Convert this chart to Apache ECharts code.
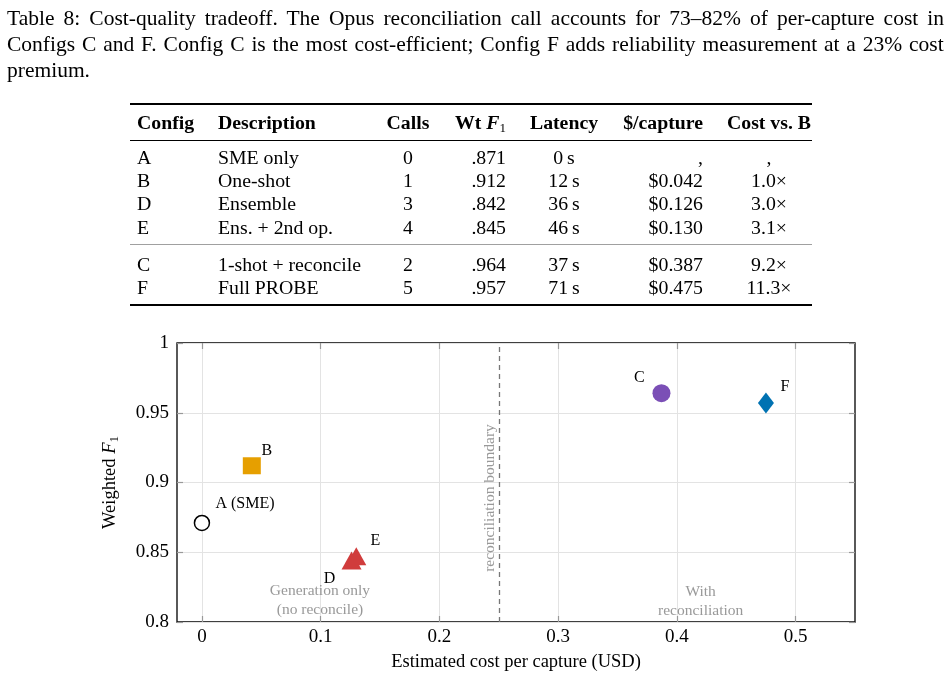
<!DOCTYPE html>
<html>
<head>
<meta charset="utf-8">
<script src="https://cdn.jsdelivr.net/npm/echarts@6/dist/echarts.min.js"></script>
<style>
  html, body { margin: 0; padding: 0; background: #fff; }
  body { width: 949px; height: 682px; position: relative; overflow: hidden; font-family: 'Liberation Serif', serif; color: #000; }
  #chart { position: absolute; left: 0; top: 0; width: 949px; height: 682px; }
  .cap { position: absolute; left: 7px; font-size: 21.5px; line-height: 26px; white-space: nowrap; }
  .cell { position: absolute; font-size: 19.8px; line-height: 23px; white-space: nowrap; z-index: 2; }
  .hd { font-weight: bold; }
  .rule { position: absolute; left: 130px; width: 682px; background: #000; }
  sub { font-size: 13px; font-weight: normal; vertical-align: -3px; line-height: 0; }
</style>
</head>
<body>
<div id="chart"></div>
<div id="table"></div>
<script>
// caption
const captionLines = [
  'Table 8: Cost-quality tradeoff. The Opus reconciliation call accounts for 73\u201382% of per-capture cost in',
  'Configs C and F. Config C is the most cost-efficient; Config F adds reliability measurement at a 23% cost',
  'premium.'
];

// table
const headers = ['Config', 'Description', 'Calls', 'Wt <i>F</i><sub>1</sub>', 'Latency', '$/capture', 'Cost vs. B'];
const configs = ['A', 'B', 'D', 'E', 'C', 'F'];
const descriptions = ['SME only', 'One-shot', 'Ensemble', 'Ens. + 2nd op.', '1-shot + reconcile', 'Full PROBE'];
const calls = ['0', '1', '3', '4', '2', '5'];
const wtF1Text = ['.871', '.912', '.842', '.845', '.964', '.957'];
const latency = ['0\u2009s', '12\u2009s', '36\u2009s', '46\u2009s', '37\u2009s', '71\u2009s'];
const perCapture = [',', '$0.042', '$0.126', '$0.130', '$0.387', '$0.475'];
const costVsB = [',', '1.0\u00d7', '3.0\u00d7', '3.1\u00d7', '9.2\u00d7', '11.3\u00d7'];

// chart
const pointLabels = ['A (SME)', 'B', 'D', 'E', 'C', 'F'];
const costs = [0, 0.042, 0.126, 0.130, 0.387, 0.475];
const f1 = [0.871, 0.912, 0.842, 0.845, 0.964, 0.957];
const xTicks = [0, 0.1, 0.2, 0.3, 0.4, 0.5];
const yTicks = [0.8, 0.85, 0.9, 0.95, 1];
const boundaryX = 0.25;
const notes = ['Generation only\n(no reconcile)', 'With\nreconciliation', 'reconciliation boundary'];
const noteX = [0.0994, 0.42, 0.2426];
const noteY = [0.8154, 0.8147, 0.8889];

// ---- caption + table (plain html) ----
const tbl = document.getElementById('table');
captionLines.forEach((t, i) => {
  const d = document.createElement('div');
  d.className = 'cap';
  d.style.top = (5 + i * 26) + 'px';
  d.textContent = t;
  tbl.appendChild(d);
  if (i < 2) {
    // justify the full lines like latex does
    const spaces = t.split(' ').length - 1;
    const extra = (937 - d.offsetWidth) / spaces;
    d.style.wordSpacing = extra + 'px';
  }
});

// column anchors: [x, align]
const cols = [[137, 'left'], [218, 'left'], [408, 'center'], [506, 'right'], [564, 'center'], [703, 'right'], [769, 'center']];
function addCell(html, col, cy, bold) {
  const d = document.createElement('div');
  d.className = 'cell' + (bold ? ' hd' : '');
  d.innerHTML = html;
  d.style.top = (cy - 11.5) + 'px';
  const [x, al] = cols[col];
  if (al === 'left') d.style.left = x + 'px';
  else if (al === 'right') d.style.right = (949 - x) + 'px';
  else { d.style.left = (x - 100) + 'px'; d.style.width = '200px'; d.style.textAlign = 'center'; }
  tbl.appendChild(d);
}
headers.forEach((h, c) => addCell(h, c, 122, true));
const rowY = [157, 180, 203, 227, 264, 287];
configs.forEach((cfg, r) => {
  [cfg, descriptions[r], calls[r], wtF1Text[r], latency[r], perCapture[r], costVsB[r]]
    .forEach((v, c) => addCell(v, c, rowY[r], false));
});
function addRule(y, h, color) {
  const d = document.createElement('div');
  d.className = 'rule';
  d.style.top = y + 'px';
  d.style.height = h + 'px';
  if (color) d.style.background = color;
  tbl.appendChild(d);
}
addRule(103, 1.6);
addRule(139.5, 0.9);
addRule(243.5, 1, '#a0a0a0');
addRule(304, 1.6);

// ---- scatter chart ----
const markerStyles = [
  { symbol: 'circle', size: 15, color: '#fff', border: '#000', bw: 1.5, off: [0, 0], lab: [43, -19] },
  { symbol: 'rect', size: [18, 17], color: '#E69F00', border: '#E69F00', bw: 0, off: [0, 0], lab: [15, -15] },
  { symbol: 'triangle', size: [20, 18], color: '#D03C3C', border: '#D03C3C', bw: 0, off: [0, -3], lab: [-22, 18] },
  { symbol: 'triangle', size: [20, 18], color: '#D03C3C', border: '#D03C3C', bw: 0, off: [0, -3], lab: [19, -15] },
  { symbol: 'circle', size: 18, color: '#7B4FB6', border: '#7B4FB6', bw: 0, off: [0, 0], lab: [-22, -15] },
  { symbol: 'diamond', size: [16, 21], color: '#0072B2', border: '#0072B2', bw: 0, off: [0, 0], lab: [19, -16] }
];

const serif = 'Liberation Serif';
const chart = echarts.init(document.getElementById('chart'));

const series = pointLabels.map((name, i) => {
  const s = markerStyles[i];
  return {
    name: name,
    type: 'scatter',
    symbol: s.symbol,
    symbolSize: s.size,
    symbolOffset: s.off,
    itemStyle: { color: s.color, borderColor: s.border, borderWidth: s.bw, opacity: 1 },
    label: {
      show: true, position: 'inside', offset: s.lab, formatter: name,
      fontFamily: serif, fontSize: 16, color: '#000'
    },
    z: 5,
    data: [[costs[i], f1[i]]]
  };
});

series.push({
  type: 'scatter',
  silent: true,
  symbolSize: 1,
  itemStyle: { color: 'transparent' },
  label: {
    show: true, position: 'inside', fontFamily: serif, fontSize: 15.5, color: '#808080',
    lineHeight: 19, align: 'center', verticalAlign: 'middle',
    formatter: p => notes[p.dataIndex],
    rotate: 0
  },
  data: notes.map((n, i) => ({
    value: [noteX[i], noteY[i]],
    label: i === 2 ? { rotate: 90 } : {}
  })),
  markLine: {
    silent: true,
    symbol: ['none', 'none'],
    label: { show: false },
    lineStyle: { type: [5, 4], color: '#777', width: 1.3 },
    data: [{ xAxis: boundaryX }]
  },
  z: 3
});

const tickStyle = { show: true, inside: true, length: 6, lineStyle: { color: '#999', width: 1.2 } };
const noLine = { show: false, onZero: false };

const option = {
  animation: false,
  grid: { left: 177, right: 94, top: 343, bottom: 60, show: true, borderColor: '#000', borderWidth: 1.3, backgroundColor: 'transparent' },
  xAxis: [
    {
      type: 'value', min: -0.021, max: 0.55,
      axisLine: noLine,
      axisTick: Object.assign({ customValues: xTicks }, tickStyle),
      axisLabel: { customValues: xTicks, fontFamily: serif, fontSize: 19, color: '#000', margin: 6 },
      splitLine: { show: true, lineStyle: { color: '#e3e3e3', width: 1 } },
      name: 'Estimated cost per capture (USD)', nameLocation: 'middle', nameGap: 31,
      nameTextStyle: { fontFamily: serif, fontSize: 18.5, color: '#000' }
    },
    {
      type: 'value', position: 'top', min: -0.021, max: 0.55,
      axisLine: noLine,
      axisTick: Object.assign({ customValues: xTicks }, tickStyle),
      axisLabel: { show: false },
      splitLine: { show: false }
    }
  ],
  yAxis: [
    {
      type: 'value', min: 0.8, max: 1,
      axisLine: noLine,
      axisTick: Object.assign({ customValues: yTicks }, tickStyle),
      axisLabel: { customValues: yTicks, fontFamily: serif, fontSize: 19, color: '#000', margin: 8 },
      splitLine: { show: true, lineStyle: { color: '#e3e3e3', width: 1 } },
      name: 'Weighted {f|F}{s|1}', nameLocation: 'middle', nameGap: 56,
      nameTextStyle: {
        fontFamily: serif, fontSize: 18.5, color: '#000',
        rich: {
          f: { fontFamily: serif, fontSize: 18.5, fontStyle: 'italic', color: '#000' },
          s: { fontFamily: serif, fontSize: 13, color: '#000', padding: [9, 0, 0, 0] }
        }
      }
    },
    {
      type: 'value', position: 'right', min: 0.8, max: 1,
      axisLine: noLine,
      axisTick: Object.assign({ customValues: yTicks }, tickStyle),
      axisLabel: { show: false },
      splitLine: { show: false }
    }
  ],
  series: series
};
chart.setOption(option);
</script>
</body>
</html>
